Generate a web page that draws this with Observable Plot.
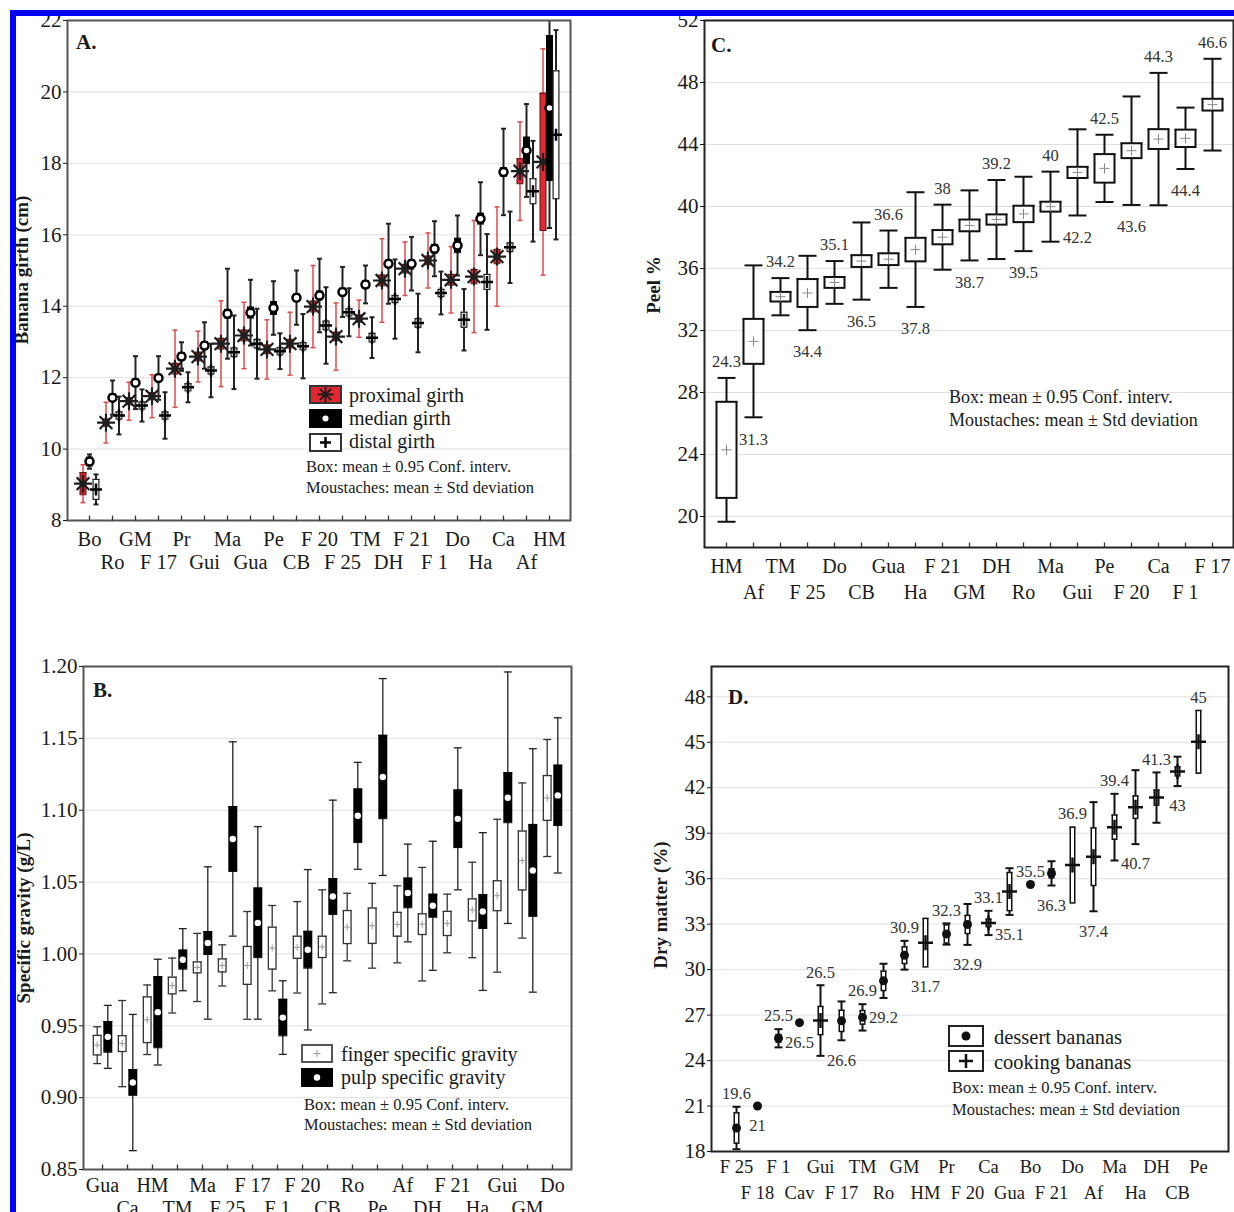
<!DOCTYPE html>
<html><head><meta charset="utf-8">
<script src="https://cdn.jsdelivr.net/npm/d3@7"></script>
<script src="https://cdn.jsdelivr.net/npm/@observablehq/plot@0.6"></script>
<style>
body{margin:0;background:#fff;}
#page{position:relative;width:1234px;height:1212px;overflow:hidden;background:#fff;font-family:"Liberation Serif","Times New Roman",Times,serif;color:#222;}
.layer{position:absolute;left:0;top:0;}
.t{position:absolute;white-space:nowrap;line-height:1;}
.bar{position:absolute;background:#0000f2;z-index:10;}
</style></head>
<body><div id="page"></div>
<script>
// ---------------- DATA ----------------
// Panel A: banana girth (cm)
const catsA = ["Bo","Ro","GM","F 17","Pr","Gui","Ma","Gua","Pe","CB","F 20","F 25","TM","DH","F 21","F 1","Do","Ha","Ca","Af","HM"];
const proxMean = [9.03,10.74,11.34,11.48,12.25,12.59,12.95,13.18,12.79,12.95,13.99,13.15,13.65,14.72,15.05,15.28,14.74,14.83,15.39,17.78,18.04];
const proxCI   = [0.31,0.1,0.1,0.1,0.15,0.12,0.15,0.15,0.12,0.12,0.15,0.12,0.1,0.15,0.12,0.12,0.15,0.2,0.2,0.35,1.92];
const proxSD   = [0.53,0.57,0.53,0.6,1.08,0.71,1.2,0.93,0.83,0.88,1.15,0.94,0.52,1.17,0.75,0.77,0.93,1.57,1.39,1.38,3.17];
const medMean  = [9.65,11.44,11.86,11.99,12.59,12.9,13.79,13.82,13.95,14.24,14.3,14.4,14.61,15.19,15.19,15.61,15.7,16.45,17.76,18.36,19.55];
const medCI    = [0.12,0.1,0.1,0.1,0.1,0.1,0.12,0.15,0.18,0.1,0.12,0.1,0.1,0.1,0.1,0.12,0.2,0.15,0.12,0.37,2.03];
const medSD    = [0.2,0.48,0.74,0.61,0.4,0.65,1.26,0.92,0.75,0.76,1.03,0.7,0.53,1.12,0.75,0.77,0.84,1.02,1.21,1.3,3.36];
const distMean = [8.87,10.94,11.22,10.94,11.73,12.2,12.71,12.95,12.74,12.88,13.46,13.83,13.12,14.2,13.53,14.37,13.62,14.68,15.65,17.22,18.8];
const distCI   = [0.28,0.1,0.1,0.1,0.1,0.1,0.12,0.12,0.1,0.1,0.12,0.1,0.12,0.1,0.12,0.1,0.21,0.21,0.12,0.35,1.79];
const distSD   = [0.42,0.53,0.45,0.65,0.42,0.75,1.03,0.98,0.5,0.9,1.07,0.67,0.57,1.11,0.82,0.6,0.86,1.34,1.0,1.41,2.93];
const ticksA = [8,10,12,14,16,18,20,22];

// Panel B: specific gravity
const catsB = ["Gua","Ca","HM","TM","Ma","F 25","F 17","F 1","F 20","CB","Ro","Pe","Af","DH","F 21","Ha","Gui","GM","Do"];
const fingerMean = [0.9365,0.9376,0.9542,0.978,0.9906,0.992,0.992,1.004,1.0046,1.0049,1.0187,1.0196,1.0206,1.0207,1.0212,1.0306,1.0405,1.065,1.1085];
const fingerCI   = [0.0068,0.0055,0.0159,0.0058,0.0038,0.0045,0.0132,0.0146,0.0077,0.0074,0.0115,0.0123,0.0083,0.0072,0.0084,0.0077,0.0104,0.0205,0.0156];
const fingerSD   = [0.0128,0.030,0.0242,0.0191,0.0237,0.0143,0.0375,0.0297,0.0318,0.0397,0.0235,0.0295,0.0268,0.0395,0.0204,0.0332,0.0532,0.054,0.0407];
const pulpMean   = [0.9423,0.9105,0.9595,0.996,1.0076,1.08,1.0216,0.9557,1.0029,1.04,1.0961,1.1231,1.0424,1.0335,1.094,1.0295,1.1087,1.0581,1.1103];
const pulpCI     = [0.0107,0.0089,0.0248,0.0066,0.008,0.0226,0.0242,0.0127,0.0128,0.0125,0.0186,0.029,0.0103,0.008,0.02,0.0118,0.0174,0.032,0.021];
const pulpSD     = [0.0219,0.0474,0.0368,0.0216,0.053,0.0676,0.067,0.0256,0.0558,0.067,0.0372,0.0685,0.034,0.0449,0.0494,0.0549,0.0875,0.0847,0.054];
const ticksB = [0.85,0.90,0.95,1.00,1.05,1.10,1.15,1.20];

// Panel C: peel %
const catsC = ["HM","Af","TM","F 25","Do","CB","Gua","Ha","F 21","GM","DH","Ro","Ma","Gui","Pe","F 20","Ca","F 1","F 17"];
const peelMean  = [24.3,31.3,34.18,34.42,35.1,36.48,36.6,37.22,38.02,38.78,39.16,39.52,39.99,42.2,42.46,43.6,44.35,44.4,46.57];
const peelCI    = [3.1,1.45,0.31,0.9,0.35,0.38,0.38,0.76,0.46,0.38,0.33,0.53,0.32,0.36,0.92,0.48,0.64,0.56,0.38];
const peelSD    = [4.64,4.9,1.2,2.4,1.38,2.49,1.85,3.7,2.1,2.26,2.55,2.4,2.26,2.78,2.17,3.5,4.27,1.98,2.96];
const peelLabel = ["24.3","31.3","34.2","34.4","35.1","36.5","36.6","37.8","38","38.7","39.2","39.5","40","42.2","42.5","43.6","44.3","44.4","46.6"];
const ticksC = [20,24,28,32,36,40,44,48,52];

// Panel D: dry matter (%)
const catsD = ["F 25","F 18","F 1","Cav","Gui","F 17","TM","Ro","GM","HM","Pr","F 20","Ca","Gua","Bo","F 21","Do","Af","Ma","Ha","DH","CB","Pe"];
const dmType  = ["dessert","dessert","dessert","dessert","cooking","dessert","dessert","dessert","dessert","cooking","dessert","dessert","cooking","cooking","dessert","dessert","cooking","cooking","cooking","cooking","cooking","cooking","cooking"];
const dmMean  = [19.55,21.0,25.47,26.5,26.64,26.62,26.85,29.26,30.95,31.78,32.35,32.98,33.08,35.15,35.62,36.35,36.9,37.45,39.4,40.72,41.35,43.08,45.03];
const dmCI    = [1.0,0,0.25,0,0.93,0.7,0.45,0.64,0.55,1.6,0.6,0.6,0.25,1.26,0,0.3,2.5,1.9,0.8,0.74,0.5,0.3,2.07];
const dmSD    = [1.4,0,0.6,0,2.33,1.28,0.87,1.13,0.95,0,0.7,1.35,0.8,1.54,0,0.8,0,3.6,2.2,2.44,1.66,0.97,0];
const dmLabel = ["19.6","21","25.5","26.5","26.5","26.6","26.9","29.2","30.9","31.7","32.3","32.9","33.1","35.1","35.5","36.3","36.9","37.4","39.4","40.7","41.3","43","45"];
const ticksD = [18,21,24,27,30,33,36,39,42,45,48];

// ---------------- HELPERS ----------------
const FONT = '"Liberation Serif","Times New Roman",Times,serif';
const W = 1234, H = 1212;
const page = document.getElementById("page");

function sym(fn){ return {draw(ctx, size){ fn(ctx, Math.sqrt(size/Math.PI)); }}; }
const symH = sym((c,r)=>{c.moveTo(-r,0);c.lineTo(r,0);});
const symPlus = sym((c,r)=>{c.moveTo(-r,0);c.lineTo(r,0);c.moveTo(0,-r);c.lineTo(0,r);});
const symAst = sym((c,r)=>{const d=r*Math.SQRT1_2;c.moveTo(-r,0);c.lineTo(r,0);c.moveTo(0,-r);c.lineTo(0,r);c.moveTo(-d,-d);c.lineTo(d,d);c.moveTo(-d,d);c.lineTo(d,-d);});
const symUp = sym((c,r)=>{c.moveTo(0,0);c.lineTo(0,-r);});

const rows = (cats, mean, ci, sd, extra = {}) => cats.map((cat, i) => {
  const o = {cat, i, mean: mean[i], ci: ci[i], sd: sd[i]};
  for (const k in extra) o[k] = extra[k][i];
  return o;
});

function boxSeries(data, o) {
  const dx = o.dx || 0;
  const w = data.filter(d => d.sd > 0);
  const b = data.filter(d => d.ci > 0);
  const hi = d => d.mean + d.sd, lo = d => d.mean - d.sd;
  const bh = d => d.mean + d.ci, bl = d => d.mean - d.ci;
  const wst = {stroke: o.wStroke, strokeWidth: o.wSW, dx, clip: true};
  const cap = {x: "cat", symbol: symH, r: o.capR, fill: "none", ...wst};
  const edge = {x: "cat", symbol: symH, r: o.bW / 2, fill: "none", stroke: o.bStroke, strokeWidth: o.bSW, dx, clip: true};
  return [
    Plot.ruleX(w, {x: "cat", y1: hi, y2: lo, ...wst}),
    Plot.dot(w, {y: hi, ...cap}),
    Plot.dot(w, {y: lo, ...cap}),
    Plot.ruleX(b, {x: "cat", y1: bh, y2: bl, stroke: o.bStroke, strokeWidth: o.bW, dx, clip: true}),
    Plot.ruleX(b, {x: "cat", y1: bh, y2: bl, stroke: o.bFill, strokeWidth: o.bW - 2 * o.bSW, dx, clip: true}),
    Plot.dot(b, {y: bh, ...edge}),
    Plot.dot(b, {y: bl, ...edge})
  ];
}

function panel({cats, frame: [l, t, r, b], xOpts, yDomain, yTicks, fmt, marks, pads: [p1, p2], xFont, frameStroke, inner}) {
  const even = cats.filter((d, i) => i % 2 === 0), odd = cats.filter((d, i) => i % 2 === 1);
  const svg = Plot.plot({
    width: W, height: H,
    marginLeft: l, marginTop: t, marginRight: W - r, marginBottom: H - b,
    style: {background: "transparent", fontFamily: FONT, fontSize: "21px", color: "#1a1a1a", overflow: "visible"},
    x: {type: "point", domain: cats, ...xOpts},
    y: {domain: yDomain},
    marks: [
      Plot.gridY(yTicks, {stroke: "#e0e0e0", strokeOpacity: 1}),
      ...marks,
      Plot.frame({stroke: frameStroke, strokeWidth: 2}),
      Plot.axisY(yTicks, {tickSize: 4, tickPadding: 2, tickFormat: fmt, label: null, fontSize: 21}),
      Plot.axisX(even, {tickSize: 0, tickPadding: p1, label: null, fontSize: xFont}),
      Plot.axisX(odd, {tickSize: 0, tickPadding: p2, label: null, fontSize: xFont}),
      inner ? Plot.dot(cats, {x: d => d, frameAnchor: "bottom", symbol: symUp, r: 5, stroke: "#333", strokeWidth: 1.3, fill: "none"}) : null
    ]
  });
  const div = document.createElement("div");
  div.className = "layer";
  div.appendChild(svg);
  page.appendChild(div);
}

function txt(s, x, y, size, {bold = false, anchor = "start", rotate = false, color = "#1a1a1a"} = {}) {
  const el = document.createElement("div");
  el.className = "t";
  el.textContent = s;
  el.style.fontSize = size + "px";
  el.style.fontWeight = bold ? "bold" : "normal";
  el.style.color = color;
  el.style.left = x + "px";
  el.style.top = y + "px";
  el.style.transform = rotate ? "translate(-50%,-50%) rotate(-90deg)" : (anchor === "middle" ? "translate(-50%,-50%)" : "translate(0,-50%)");
  page.appendChild(el);
}
function swatch(x, y, w, h, fill, stroke, inner) {
  const el = document.createElement("div");
  el.className = "t";
  el.style.left = x + "px"; el.style.top = y + "px";
  el.innerHTML = `<svg width="${w}" height="${h}" style="display:block"><rect x="1" y="1" width="${w-2}" height="${h-2}" fill="${fill}" stroke="${stroke}" stroke-width="2"/>${inner(w/2, h/2)}</svg>`;
  page.appendChild(el);
}

// ---------------- PANEL A ----------------
const A_prox = rows(catsA, proxMean, proxCI, proxSD);
const A_med = rows(catsA, medMean, medCI, medSD);
const A_dist = rows(catsA, distMean, distCI, distSD);
panel({
  cats: catsA, frame: [67, 20, 570, 520], xOpts: {padding: 0.5}, yDomain: [8, 22], yTicks: ticksA, fmt: d3.format("d"),
  pads: [11, 34], xFont: 20.5, frameStroke: "#555", inner: true,
  marks: [
    ...boxSeries(A_prox, {dx: -6.5, wStroke: "#e04a4a", wSW: 1.5, capR: 2.5, bStroke: "#5a1212", bFill: "#e3262f", bW: 7, bSW: 1}),
    Plot.dot(A_prox, {x: "cat", y: "mean", dx: -6.5, symbol: symAst, r: 9, stroke: "#1e1e1e", strokeWidth: 2.2, fill: "none"}),
    ...boxSeries(A_med, {dx: 0, wStroke: "#222", wSW: 2, capR: 2.5, bStroke: "#000", bFill: "#000", bW: 7, bSW: 1}),
    Plot.dot(A_med, {x: "cat", y: "mean", r: 4, fill: "#fff", stroke: "#000", strokeWidth: 2.5}),
    ...boxSeries(A_dist, {dx: 6.5, wStroke: "#222", wSW: 2, capR: 2.5, bStroke: "#222", bFill: "#fff", bW: 7, bSW: 1.2}),
    Plot.dot(A_dist, {x: "cat", y: "mean", dx: 6.5, symbol: symPlus, r: 6, stroke: "#000", strokeWidth: 2.5, fill: "none"})
  ]
});

// ---------------- PANEL B ----------------
const B_f = rows(catsB, fingerMean, fingerCI, fingerSD);
const B_p = rows(catsB, pulpMean, pulpCI, pulpSD);
panel({
  cats: catsB, frame: [83, 666, 571, 1169], xOpts: {padding: 0.5}, yDomain: [0.85, 1.20], yTicks: ticksB, fmt: d3.format(".2f"),
  pads: [8, 31], xFont: 20, frameStroke: "#555", inner: true,
  marks: [
    ...boxSeries(B_f, {dx: -5.3, wStroke: "#333", wSW: 1.3, capR: 4, bStroke: "#333", bFill: "#fff", bW: 9, bSW: 1.3}),
    Plot.dot(B_f, {x: "cat", y: "mean", dx: -5.3, symbol: symPlus, r: 3.5, stroke: "#999", strokeWidth: 1, fill: "none"}),
    ...boxSeries(B_p, {dx: 5.3, wStroke: "#222", wSW: 1.3, capR: 4, bStroke: "#000", bFill: "#000", bW: 9, bSW: 1}),
    Plot.dot(B_p, {x: "cat", y: "mean", dx: 5.3, r: 3.2, fill: "#fff", stroke: "none"})
  ]
});

// ---------------- PANEL C ----------------
const C_r = rows(catsC, peelMean, peelCI, peelSD, {label: peelLabel});
panel({
  cats: catsC, frame: [704, 20, 1233, 547], xOpts: {padding: 0.5}, yDomain: [18, 52], yTicks: ticksC, fmt: d3.format("d"),
  pads: [11, 37], xFont: 20, frameStroke: "#222", inner: true,
  marks: [
    ...boxSeries(C_r, {dx: 0, wStroke: "#111", wSW: 2, capR: 9, bStroke: "#111", bFill: "#fff", bW: 22, bSW: 2}),
    Plot.dot(C_r, {x: "cat", y: "mean", symbol: symPlus, r: 5, stroke: "#888", strokeWidth: 1, fill: "none"}),
    Plot.text(C_r.filter(d => d.i % 2 === 0), {x: "cat", y: d => d.mean + d.sd, text: "label", dy: -16, fontSize: 16.5, fill: "#333"}),
    Plot.text(C_r.filter(d => d.i % 2 === 1), {x: "cat", y: d => d.mean - d.sd, text: "label", dy: 22, fontSize: 16.5, fill: "#333"})
  ]
});

// ---------------- PANEL D ----------------
const D_r = rows(catsD, dmMean, dmCI, dmSD, {type: dmType, label: dmLabel});
const ext = d => Math.max(d.sd, d.ci);
panel({
  cats: catsD, frame: [711, 666, 1228, 1151], xOpts: {padding: 0, insetLeft: 15, insetRight: 21}, yDomain: [18, 50], yTicks: ticksD, fmt: d3.format("d"),
  pads: [8, 34], xFont: 18.5, frameStroke: "#222", inner: false,
  marks: [
    ...boxSeries(D_r, {dx: 0, wStroke: "#111", wSW: 2, capR: 4, bStroke: "#111", bFill: "#fff", bW: 6, bSW: 1.5}),
    Plot.dot(D_r.filter(d => d.type === "dessert"), {x: "cat", y: "mean", r: 4.5, fill: "#111", stroke: "none"}),
    Plot.dot(D_r.filter(d => d.type === "cooking"), {x: "cat", y: "mean", symbol: symPlus, r: 7.5, stroke: "#111", strokeWidth: 2.5, fill: "none"}),
    Plot.text(D_r.filter(d => d.i % 2 === 0), {x: "cat", y: d => d.mean + ext(d), text: "label", dy: -13, fontSize: 16.5, fill: "#333"}),
    Plot.text(D_r.filter(d => d.i % 2 === 1), {x: "cat", y: d => d.mean - ext(d), text: "label", dy: 20, fontSize: 16.5, fill: "#333"})
  ]
});

// ---------------- TITLES, LETTERS, LEGENDS ----------------
txt("Banana girth (cm)", 21, 270, 19, {bold: true, rotate: true});
txt("Specific gravity (g/L)", 23, 918, 19, {bold: true, rotate: true});
txt("Peel %", 653, 285, 19, {bold: true, rotate: true});
txt("Dry matter (%)", 660, 905, 19, {bold: true, rotate: true});
txt("A.", 76, 42, 21, {bold: true});
txt("B.", 93, 690, 21, {bold: true});
txt("C.", 711, 45, 21, {bold: true});
txt("D.", 728, 697, 21, {bold: true});

// legend A
const astPath = (cx, cy, r) => { const d = r * Math.SQRT1_2; return `<path d="M${cx-r},${cy}H${cx+r}M${cx},${cy-r}V${cy+r}M${cx-d},${cy-d}L${cx+d},${cy+d}M${cx-d},${cy+d}L${cx+d},${cy-d}" stroke="#1e1e1e" stroke-width="2" fill="none"/>`; };
const plusPath = (cx, cy, r, c, sw) => `<path d="M${cx-r},${cy}H${cx+r}M${cx},${cy-r}V${cy+r}" stroke="${c}" stroke-width="${sw}" fill="none"/>`;
swatch(309, 385, 33, 19, "#e3262f", "#333", (cx, cy) => astPath(cx, cy, 8));
swatch(309, 409, 33, 19, "#000", "#000", (cx, cy) => `<circle cx="${cx}" cy="${cy}" r="3" fill="#fff"/>`);
swatch(309, 433, 33, 19, "#fff", "#333", (cx, cy) => plusPath(cx, cy, 5.5, "#000", 2.5));
txt("proximal girth", 349, 395, 20);
txt("median girth", 349, 418, 20);
txt("distal girth", 349, 441, 20);
txt("Box: mean \u00b1 0.95 Conf. interv.", 306, 467, 16.5);
txt("Moustaches: mean \u00b1 Std deviation", 306, 488, 16.5);

// legend B
swatch(301, 1044, 32, 19, "#fff", "#555", (cx, cy) => plusPath(cx, cy, 3.5, "#999", 1));
swatch(301, 1068, 32, 19, "#000", "#000", (cx, cy) => `<circle cx="${cx}" cy="${cy}" r="3.2" fill="#fff"/>`);
txt("finger specific gravity", 341, 1054, 20);
txt("pulp specific gravity", 341, 1077, 20);
txt("Box: mean \u00b1 0.95 Conf. interv.", 304, 1105, 16.5);
txt("Moustaches: mean \u00b1 Std deviation", 304, 1125, 16.5);

// legend C
txt("Box: mean \u00b1 0.95 Conf. interv.", 949, 397, 18);
txt("Moustaches: mean \u00b1 Std deviation", 949, 420, 18);

// legend D
swatch(948, 1025, 36, 22, "#fff", "#222", (cx, cy) => `<circle cx="${cx}" cy="${cy}" r="4.5" fill="#111"/>`);
swatch(948, 1050, 36, 22, "#fff", "#222", (cx, cy) => plusPath(cx, cy, 7, "#111", 2.5));
txt("dessert bananas", 994, 1037, 20.5);
txt("cooking bananas", 994, 1062, 20.5);
txt("Box: mean \u00b1 0.95 Conf. interv.", 952, 1088, 16.5);
txt("Moustaches: mean \u00b1 Std deviation", 952, 1110, 16.5);

// blue border (left and top)
const b1 = document.createElement("div"); b1.className = "bar";
Object.assign(b1.style, {left: "10px", top: "10px", width: "6px", height: "1202px"}); page.appendChild(b1);
const b2 = document.createElement("div"); b2.className = "bar";
Object.assign(b2.style, {left: "10px", top: "10px", width: "1224px", height: "6px"}); page.appendChild(b2);
</script>
</body></html>
